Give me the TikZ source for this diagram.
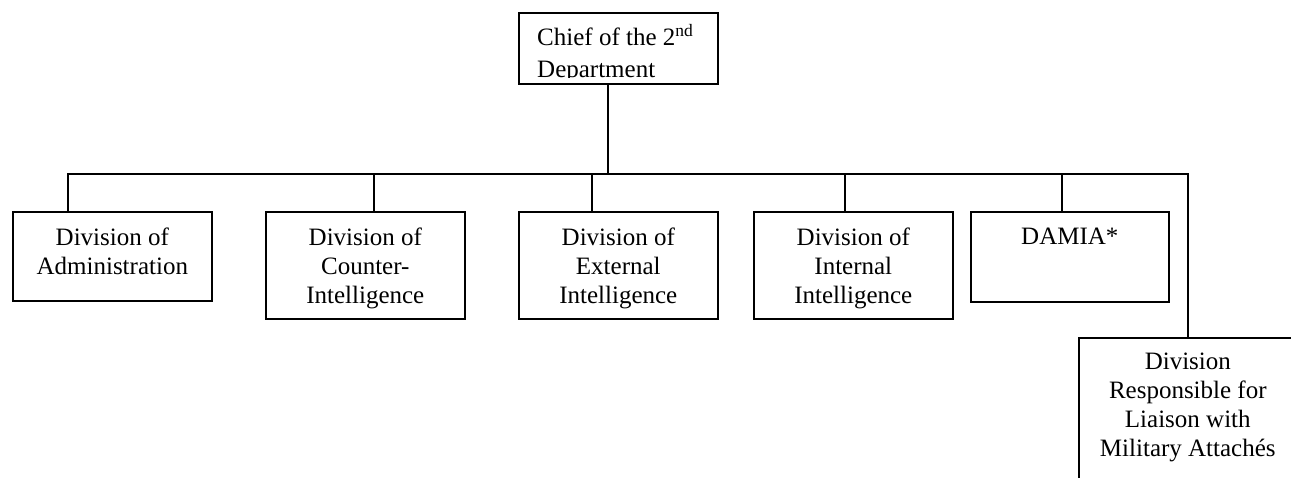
\documentclass[tikz,border=0pt]{standalone}
\usepackage{fontspec}
\setmainfont{Liberation Serif}
\begin{document}
\begin{tikzpicture}[x=1pt,y=-1pt]
      \clip (0,0) rectangle (1291,478);
      \fill[white] (0,0) rectangle (1291,478);
      \begin{scope}[every node/.style={rectangle,draw,line width=1.6pt,anchor=north west,minimum width=199,inner sep=0pt}]
        \node[minimum height=71] (chief) at (518,12) {};
        \node[minimum height=89] (admin) at (12,211) {};
        \node[minimum height=107] (counter) at (265,211) {};
        \node[minimum height=107] (external) at (518,211) {};
        \node[minimum height=107] (internal) at (753,211) {};
        \node[minimum height=90,minimum width=198] (damia) at (970,211) {};
        \node[minimum height=170,minimum width=218] (liaison) at (1078,337) {};
      \end{scope}
      \begin{scope}[every node/.style={font=\fontsize{25}{29}\selectfont,align=center,inner sep=0pt,anchor=north}]
        \begin{scope}
          \clip (chief.north west) rectangle ([yshift=7]chief.south east);
          \node[align=left,anchor=north west] (chief text) at (537,24) {Chief of the 2\textsuperscript{nd}\\[3pt]Department};
        \end{scope}
        \node (admin text) at ([yshift=-17]admin.north) {Division of\\Administration};
        \node (counter text) at ([yshift=-17]counter.north) {Division of\\Counter-\\Intelligence};
        \node (external text) at ([yshift=-17]external.north) {Division of\\External\\Intelligence};
        \node (internal text) at ([yshift=-17]internal.north) {Division of\\Internal\\Intelligence};
        \node (damia text) at ([yshift=-17]damia.north) {DAMIA*};
        \node (liaison text) at ([yshift=-16]liaison.north) {Division\\Responsible for\\Liaison with\\Military Attachés};
      \end{scope}
      \coordinate (hub) at (608,174);
      \begin{scope}[every edge/.style={draw=black,line width=1.6pt},hv/.style={to path={|- (\tikztotarget)}}]
        \path (hub |- chief.south) edge (hub);
        \path ([xshift=-44.5]admin.north) edge[hv] (hub);
        \path ([xshift=8.5]counter.north) edge[hv] (hub);
        \path ([xshift=-26.5]external.north) edge[hv] (hub);
        \path ([xshift=-8.5]internal.north) edge[hv] (hub);
        \path ([xshift=-8]damia.north) edge[hv] (hub);
        \path (liaison.north) edge[hv] (hub);
      \end{scope}
    \end{tikzpicture}
\end{document}
